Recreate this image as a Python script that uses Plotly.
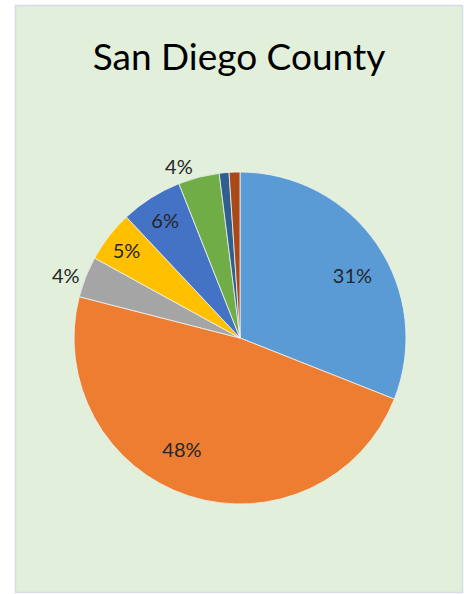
import plotly.graph_objects as go

# Share of total by category, clockwise from 12 o'clock
categories = ["Category 1", "Category 2", "Category 3", "Category 4",
              "Category 5", "Category 6", "Category 7", "Category 8"]
shares = [31, 48, 4, 5, 6, 4, 0.95, 1.05]

# Where each percentage label goes: on the slice, beside the pie, or hidden
label_position = ["large", "large", "outside", "inside", "inside", "outside", "none", "none"]

colors = ["#5B9BD5", "#ED7D31", "#A5A5A5", "#FFC000",
          "#4472C4", "#70AD47", "#2F5F8F", "#A9491A"]

W, H = 464, 594
cx, cy = 240, 338
r_pie = 166      # drawn pie radius
r_label = 105    # ring on which the labels of the large slices sit

TEXT = dict(family="Lato", size=20, color="#262626")


def domain(r):
    return dict(x=[(cx - r) / W, (cx + r) / W],
                y=[(H - cy - r) / H, (H - cy + r) / H])


# Main pie: coloured slices plus labels for the smaller slices
main_pos = [p if p in ("inside", "outside") else "none" for p in label_position]
main_tpl = ["%{percent:.0%}" if p in ("inside", "outside") else "" for p in label_position]

# Transparent companion pie carrying the large-slice labels further out
big_pos = ["outside" if p == "large" else "none" for p in label_position]
big_tpl = ["%{percent:.0%}" if p == "large" else "" for p in label_position]

fig = go.Figure()
fig.add_trace(go.Pie(
    labels=categories, values=shares, sort=False,
    direction="clockwise", rotation=0,
    marker=dict(colors=colors, line=dict(color="#F2F2F2", width=0.8)),
    texttemplate=main_tpl, textposition=main_pos,
    insidetextorientation="horizontal",
    textfont=TEXT, insidetextfont=TEXT, outsidetextfont=TEXT,
    hoverinfo="label+percent", showlegend=False,
    domain=domain(r_pie),
))
fig.add_trace(go.Pie(
    labels=categories, values=shares, sort=False,
    direction="clockwise", rotation=0,
    marker=dict(colors=["rgba(0,0,0,0)"] * len(shares), line=dict(width=0)),
    texttemplate=big_tpl, textposition=big_pos,
    textfont=TEXT, outsidetextfont=TEXT,
    hoverinfo="skip", showlegend=False,
    domain=domain(r_label),
))

fig.update_layout(
    width=W, height=H,
    margin=dict(l=0, r=0, t=0, b=0),
    paper_bgcolor="white",
    showlegend=False,
    shapes=[dict(type="rect", xref="paper", yref="paper", layer="below",
                 x0=15.5 / W, x1=462.5 / W, y0=1 - 592.5 / H, y1=1 - 5.5 / H,
                 fillcolor="#E2EFDA", line=dict(color="#D6DCE5", width=1.5))],
    title=dict(text="San Diego County", x=239 / W, xanchor="center",
               y=1 - 57 / H, yanchor="middle", xref="paper", yref="paper",
               font=dict(family="Lato", size=37, color="#000000")),
)

fig.write_html("out.html")
